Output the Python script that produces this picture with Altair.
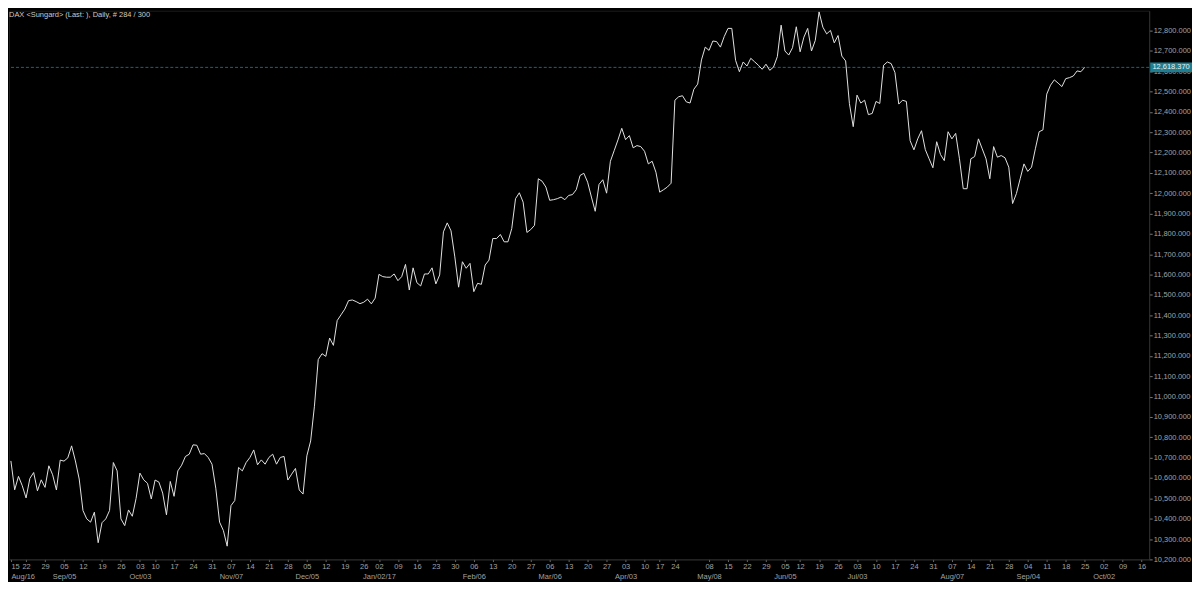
import altair as alt
import pandas as pd

# ---- data (daily closes, first trading day 2016-08-16) ----
values = [
    10684, 10542, 10608, 10562, 10502, 10598, 10627, 10537, 10591, 10554,
    10660, 10616, 10541, 10688, 10683, 10699, 10758, 10684, 10595, 10440,
    10399, 10383, 10432, 10282, 10380, 10399, 10440, 10676, 10635, 10399,
    10366, 10443, 10412, 10500, 10624, 10591, 10574, 10497, 10590, 10580,
    10526, 10419, 10583, 10510, 10635, 10663, 10706, 10717, 10763, 10761,
    10717, 10720, 10701, 10668, 10550, 10383, 10342, 10265, 10464, 10489,
    10652, 10635, 10676, 10701, 10738, 10665, 10689, 10668, 10701, 10717,
    10668, 10701, 10706, 10590, 10619, 10647, 10541, 10521, 10709, 10782,
    10953, 11182, 11211, 11198, 11288, 11252, 11374, 11402, 11430, 11472,
    11475, 11467, 11457, 11464, 11479, 11456, 11484, 11601, 11590, 11587,
    11587, 11603, 11570, 11590, 11650, 11524, 11633, 11560, 11544, 11603,
    11603, 11633, 11554, 11598, 11810, 11854, 11815, 11687, 11538, 11663,
    11631, 11655, 11516, 11557, 11552, 11647, 11671, 11777, 11777, 11797,
    11761, 11761, 11826, 11973, 12002, 11956, 11807, 11821, 11842, 12071,
    12059, 12030, 11965, 11968, 11973, 11981, 11968, 11989, 11993, 12017,
    12087, 12098, 12054, 11981, 11911, 12043, 12066, 12000, 12157, 12209,
    12262, 12319, 12263, 12283, 12223, 12234, 12229, 12206, 12144, 12157,
    12103, 12005, 12017, 12030, 12049, 12457, 12474, 12479, 12449, 12443,
    12511, 12536, 12655, 12718, 12702, 12748, 12745, 12718, 12770, 12810,
    12810, 12653, 12597, 12645, 12625, 12663, 12646, 12629, 12609, 12634,
    12604, 12620, 12671, 12826, 12699, 12679, 12715, 12818, 12695, 12767,
    12810, 12699, 12751, 12891, 12816, 12783, 12800, 12739, 12775, 12674,
    12650, 12440, 12327, 12482, 12443, 12457, 12386, 12392, 12451, 12441,
    12629, 12645, 12637, 12593, 12438, 12457, 12451, 12258, 12213, 12267,
    12307, 12214, 12169, 12125, 12253, 12190, 12160, 12302, 12267, 12294,
    12169, 12022, 12022, 12169, 12180, 12267, 12218, 12169, 12071, 12229,
    12177, 12185, 12174, 12128, 11949, 11998, 12071, 12144, 12107, 12128,
    12218, 12302, 12311, 12487, 12531, 12557, 12541, 12524, 12563, 12568,
    12576, 12601, 12597, 12618.37,
]
start_date = "2016-08-16"
holidays = ["2016-10-03", "2016-12-26", "2017-04-14", "2017-04-17",
            "2017-05-01", "2017-06-05"]
n_slots = 300
skip_weeks = ["2017-05-01"]
month_labels = ["Aug/16", "Sep/05", "Oct/03", "Nov/07", "Dec/05", "Jan/02/17",
                "Feb/06", "Mar/06", "Apr/03", "May/08", "Jun/05", "Jul/03",
                "Aug/07", "Sep/04", "Oct/02"]
y_ticks = list(range(10200, 12801, 100))
title_text = "DAX <Sungard> (Last: ), Daily, # 284 / 300"

# ---- trading-day calendar -> slot index ----
all_days = pd.bdate_range(start_date, periods=420)
hol = set(pd.to_datetime(holidays))
data_days = [d for d in all_days if d not in hol][:len(values)]
future_days = [d for d in all_days if d > data_days[-1]][: n_slots - len(values)]
slots = data_days + future_days

tick_idx, tick_lab = [], []
seen = set()
prev_month = None
m_iter = iter(month_labels)
for i, d in enumerate(slots):
    wk = (d - pd.Timedelta(days=d.weekday())).normalize()
    if wk in seen:
        continue
    seen.add(wk)
    if wk.strftime("%Y-%m-%d") in skip_weeks:
        continue
    lab = [wk.strftime("%d")]
    if wk.month != prev_month:
        lab.append(next(m_iter))
        prev_month = wk.month
    tick_idx.append(i)
    tick_lab.append(lab)

lab_js = "[" + ",".join("[" + ",".join("'" + s + "'" for s in l) + "]" for l in tick_lab) + "]"
idx_js = "[" + ",".join(str(i) for i in tick_idx) + "]"
label_expr = lab_js + "[indexof(" + idx_js + ", datum.value)]"

df = pd.DataFrame({"i": list(range(len(values))), "v": values})
last_df = pd.DataFrame({"v": [values[-1]]})

FONT = "Liberation Sans"
xscale = alt.Scale(domain=[-0.5, n_slots], nice=False, zero=False)
yscale = alt.Scale(domain=[10200, 12897], nice=False, zero=False)
yaxis = alt.Axis(orient="right", values=y_ticks, format=",.3f", title=None,
                 tickSize=3, labelPadding=1, labelOverlap=False)
xaxis = alt.Axis(values=tick_idx, labelExpr=label_expr, title=None, labelOverlap=False,
                 labelFlush=3, tickSize=2, labelPadding=1, labelLineHeight=10.5,
                 labelBaseline="top")

rule = alt.Chart(last_df).mark_rule(color="#1c6676", strokeDash=[3, 2], strokeWidth=1).encode(
    y=alt.Y("v:Q", scale=yscale, axis=yaxis)
)

line = alt.Chart(df).mark_line(color="#e2e2e2", strokeWidth=1, clip=True).encode(
    x=alt.X("i:Q", scale=xscale, axis=xaxis),
    y=alt.Y("v:Q", scale=yscale, axis=yaxis),
)

box = alt.Chart(last_df).transform_calculate(
    lo="datum.v - 24", hi="datum.v + 24"
).mark_rect(color="#1f7f91").encode(
    x=alt.value(1146), x2=alt.value(1188),
    y=alt.Y("lo:Q", scale=yscale, axis=yaxis), y2="hi:Q",
)

label = alt.Chart(last_df).mark_text(
    color="#e6f4f6", fontSize=7.5, font=FONT, align="center", baseline="middle"
).encode(
    x=alt.value(1167),
    y=alt.Y("v:Q", scale=yscale, axis=yaxis),
    text=alt.Text("v:Q", format=",.3f"),
)

chart = alt.layer(rule, line, box, label).properties(
    width=1145, height=551, background="#000000",
    padding={"left": 0, "top": 1.5, "right": 0, "bottom": 0},
    title=alt.TitleParams(text=title_text, anchor="start", fontSize=7.5, font=FONT,
                          color="#cccccc", fontWeight="normal", offset=-8, frame="group"),
).configure_view(
    stroke="#1c1c1c", strokeWidth=1
).configure_axis(
    labelFont=FONT, labelFontSize=7.5, labelColor="#a3a3a3",
    domainColor="#2e2e2e", tickColor="#7a7a7a", grid=False,
)

chart.save("out.html", embed_options={"renderer": "svg", "actions": False})
